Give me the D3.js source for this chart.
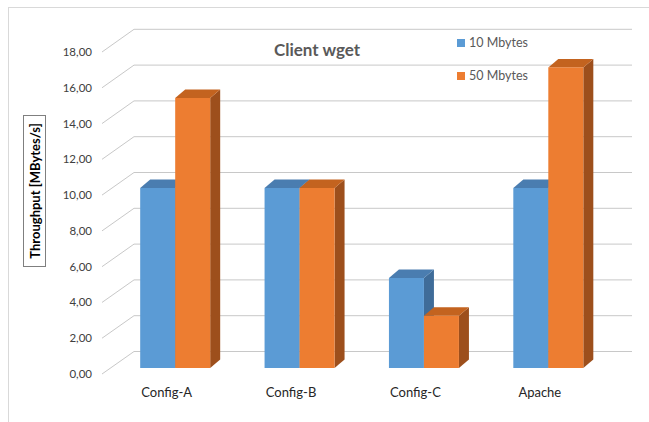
<!DOCTYPE html>
<html>
<head>
<meta charset="utf-8">
<script src="https://cdn.jsdelivr.net/npm/d3@7"></script>
<style>
body { margin: 0; background: #fff; }
svg text { font-family: Lato, "Open Sans", sans-serif; }
</style>
</head>
<body>
<div id="chart"></div>
<script>
var categories = ["Config-A", "Config-B", "Config-C", "Apache"];
var seriesNames = ["10 Mbytes", "50 Mbytes"];
var values10 = [10, 10, 5, 10];
var values50 = [15, 10, 2.9, 16.7];
var yTicks = [0, 2, 4, 6, 8, 10, 12, 14, 16, 18];

var width = 649, height = 422;
var frontColors = ["#5b9bd5", "#ed7d31"];
var topColors = ["#4a7db0", "#c3631f"];
var sideColors = ["#3f6c99", "#9d4f1c"];
var depthX = 10, depthY = -8.5;

var svg = d3.select("#chart")
	.append("svg")
	.attr("width", width)
	.attr("height", height);

// outer chart border
svg.append("rect")
	.attr("x", 8.5)
	.attr("y", 7.5)
	.attr("width", 700)
	.attr("height", 500)
	.attr("fill", "#fff")
	.attr("stroke", "#d9d9d9");

// three planes: floor front, bar front and back wall
var yFront = d3.scaleLinear().domain([0, 18]).range([374, 52]);
var yBar = d3.scaleLinear().domain([0, 18]).range([368, 44]);
var yBack = d3.scaleLinear().domain([0, 18]).range([351.5, 29.3]);
var x = d3.scaleBand().domain(categories).range([113, 610.5]);
var xSeries = d3.scaleBand().domain(seriesNames).range([0, 70]);
var labelShift = -8.5;

var leftFront = 102, leftBack = 134, rightBack = 632;

var grid = svg.append("g");
yTicks.forEach(function(t) {
	grid.append("path")
		.attr("d", "M" + leftFront + "," + yFront(t) + "L" + leftBack + "," + yBack(t) + "L" + rightBack + "," + yBack(t))
		.attr("fill", "none")
		.attr("stroke", "#c8c8c8")
		.attr("stroke-width", 1);
	svg.append("text")
		.attr("x", 92)
		.attr("y", yFront(t))
		.attr("dy", "0.35em")
		.attr("text-anchor", "end")
		.attr("font-size", 11.5)
		.attr("fill", "#404040")
		.text(d3.format(".2f")(t).replace(".", ","));
});

var allValues = [values10, values50];
categories.forEach(function(c, i) {
	var cx = x(c) + x.bandwidth() / 2;
	seriesNames.forEach(function(s, j) {
		var v = allValues[j][i];
		var x0 = cx - 35 + xSeries(s);
		var w = xSeries.bandwidth();
		var yt = yBar(v), yb = yBar(0);
		svg.append("polygon")
			.attr("points", [[x0 + w, yt], [x0 + w + depthX, yt + depthY], [x0 + w + depthX, yb + depthY], [x0 + w, yb]].join(" "))
			.attr("fill", sideColors[j]);
		svg.append("polygon")
			.attr("points", [[x0, yt], [x0 + depthX, yt + depthY], [x0 + w + depthX, yt + depthY], [x0 + w, yt]].join(" "))
			.attr("fill", topColors[j]);
		svg.append("rect")
			.attr("x", x0)
			.attr("y", yt)
			.attr("width", w)
			.attr("height", yb - yt)
			.attr("fill", frontColors[j]);
	});
	svg.append("text")
		.attr("x", cx + labelShift)
		.attr("y", 397)
		.attr("text-anchor", "middle")
		.attr("font-size", 13)
		.attr("fill", "#262626")
		.text(c);
});

// title
svg.append("text")
	.attr("x", 317)
	.attr("y", 56)
	.attr("text-anchor", "middle")
	.attr("font-size", 17)
	.attr("font-weight", "bold")
	.attr("fill", "#595959")
	.text("Client wget");

// legend
seriesNames.forEach(function(s, j) {
	var ly = 43 + j * 33;
	svg.append("rect")
		.attr("x", 457)
		.attr("y", ly - 4)
		.attr("width", 8)
		.attr("height", 8)
		.attr("fill", frontColors[j]);
	svg.append("text")
		.attr("x", 469)
		.attr("y", ly)
		.attr("dy", "0.35em")
		.attr("font-size", 12.5)
		.attr("fill", "#595959")
		.text(s);
});

// y axis title in a box
svg.append("rect")
	.attr("x", 23.5)
	.attr("y", 115.5)
	.attr("width", 22)
	.attr("height", 151)
	.attr("fill", "#fff")
	.attr("stroke", "#7f7f7f");
svg.append("text")
	.attr("transform", "translate(35," + 191 + ") rotate(-90)")
	.attr("text-anchor", "middle")
	.attr("dy", "0.35em")
	.attr("font-size", 13)
	.attr("font-weight", "bold")
	.attr("fill", "#000")
	.text("Throughput [MBytes/s]");
</script>
</body>
</html>
